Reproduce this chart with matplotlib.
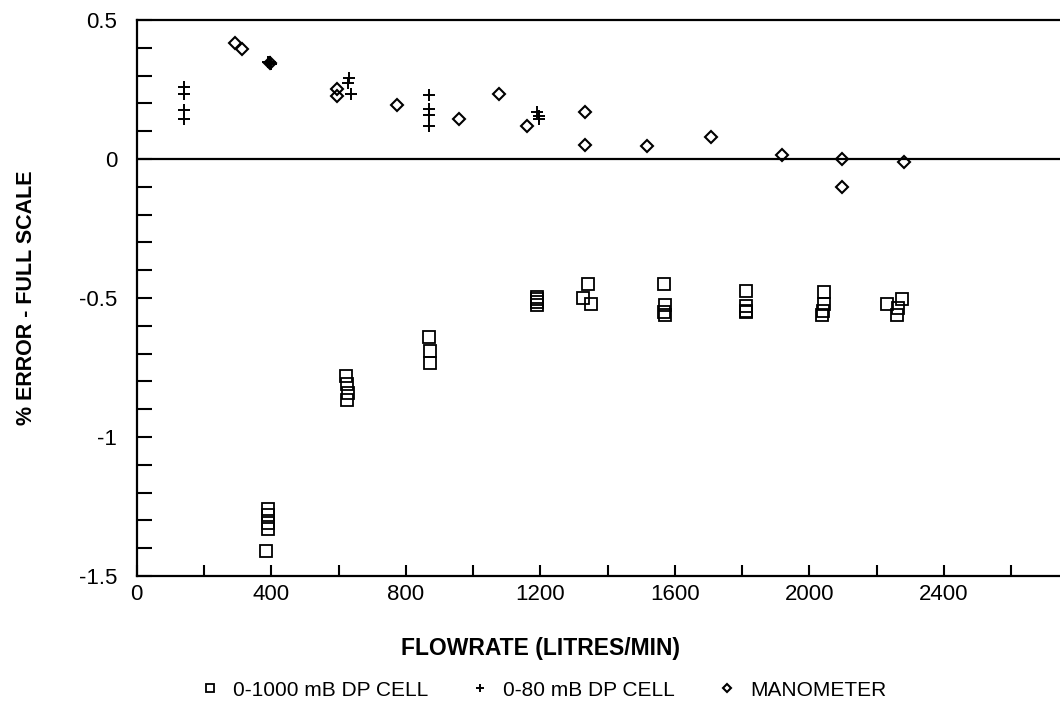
import matplotlib
matplotlib.use('Agg')
import matplotlib.pyplot as plt
from matplotlib.ticker import MultipleLocator, FuncFormatter

plt.rcParams['font.family'] = ['Liberation Sans', 'DejaVu Sans']

# 0-1000 mB DP cell (squares)
dp1000_x = [390, 390, 390, 390, 383,
            622, 626, 628, 625,
            869, 872, 872,
            1190, 1190, 1190, 1190,
            1327, 1342, 1351,
            1568, 1570, 1568, 1570,
            1810, 1812, 1812, 1812,
            2042, 2042, 2040, 2038,
            2232, 2274, 2262, 2259]
dp1000_y = [-1.26, -1.28, -1.31, -1.33, -1.41,
            -0.78, -0.81, -0.84, -0.865,
            -0.64, -0.69, -0.735,
            -0.495, -0.505, -0.515, -0.525,
            -0.50, -0.45, -0.52,
            -0.45, -0.525, -0.55, -0.56,
            -0.475, -0.53, -0.545, -0.55,
            -0.48, -0.52, -0.545, -0.56,
            -0.52, -0.505, -0.535, -0.56]

# 0-80 mB DP cell (plus)
dp80_x = [140, 140, 140, 140,
          390, 395, 400, 395,
          632, 628, 636,
          869, 869, 869, 869,
          1190, 1195, 1195]
dp80_y = [0.26, 0.235, 0.175, 0.145,
          0.35, 0.345, 0.34, 0.35,
          0.29, 0.275, 0.235,
          0.23, 0.18, 0.16, 0.12,
          0.17, 0.155, 0.145]

# manometer (diamonds)
mano_x = [291, 312, 395, 595, 595, 773, 958, 1077, 1160,
          1332, 1332, 1517, 1707, 1918, 2097, 2097, 2280]
mano_y = [0.417, 0.396, 0.345, 0.25, 0.225, 0.194, 0.144, 0.234, 0.119,
          0.17, 0.05, 0.047, 0.079, 0.014, 0.0, -0.10, -0.01]

fig = plt.figure(figsize=(10.6, 7.13), dpi=100)
ax = fig.add_axes([0.129, 0.192, 0.871, 0.780])

ax.plot(dp1000_x, dp1000_y, 's', ms=8, mfc='none', mec='black', mew=1.3,
        label='0-1000 mB DP CELL')
ax.plot(dp80_x, dp80_y, '+', ms=9, mec='black', mew=1.4,
        label='0-80 mB DP CELL')
ax.plot(mano_x, mano_y, 'D', ms=6.5, mfc='none', mec='black', mew=1.5,
        label='MANOMETER')

ax.axhline(0, color='black', lw=1.6)

ax.set_xlim(0, 2745)
ax.set_ylim(-1.5, 0.5)
ax.spines['right'].set_visible(False)
for s in ['left', 'top', 'bottom']:
    ax.spines[s].set_linewidth(1.6)

ax.xaxis.set_major_locator(MultipleLocator(400))
ax.xaxis.set_minor_locator(MultipleLocator(200))
ax.yaxis.set_major_locator(MultipleLocator(0.5))
ax.yaxis.set_minor_locator(MultipleLocator(0.1))
ax.yaxis.set_major_formatter(FuncFormatter(lambda v, p: ('%g' % v).replace('\u2212', '-')))
ax.xaxis.set_major_formatter(FuncFormatter(lambda v, p: '%d' % v))

ax.tick_params(axis='both', which='both', direction='in', top=False, right=False,
               labelsize=16, width=1.5)
ax.tick_params(axis='y', which='both', length=11, pad=14)
ax.tick_params(axis='x', which='both', length=8, pad=6)

ax.set_xlabel('FLOWRATE (LITRES/MIN)', fontsize=16.5, fontweight='bold')
ax.xaxis.set_label_coords(0.437, -0.11)
ax.set_ylabel('% ERROR - FULL SCALE', fontsize=15.5, fontweight='bold', labelpad=30)

fig.legend(loc='center', bbox_to_anchor=(0.512, 0.032), ncol=3, frameon=False,
           fontsize=15, handlelength=1.0, handletextpad=0.6, columnspacing=2.0,
           markerscale=0.7)

fig.savefig('out.png', dpi=100)
